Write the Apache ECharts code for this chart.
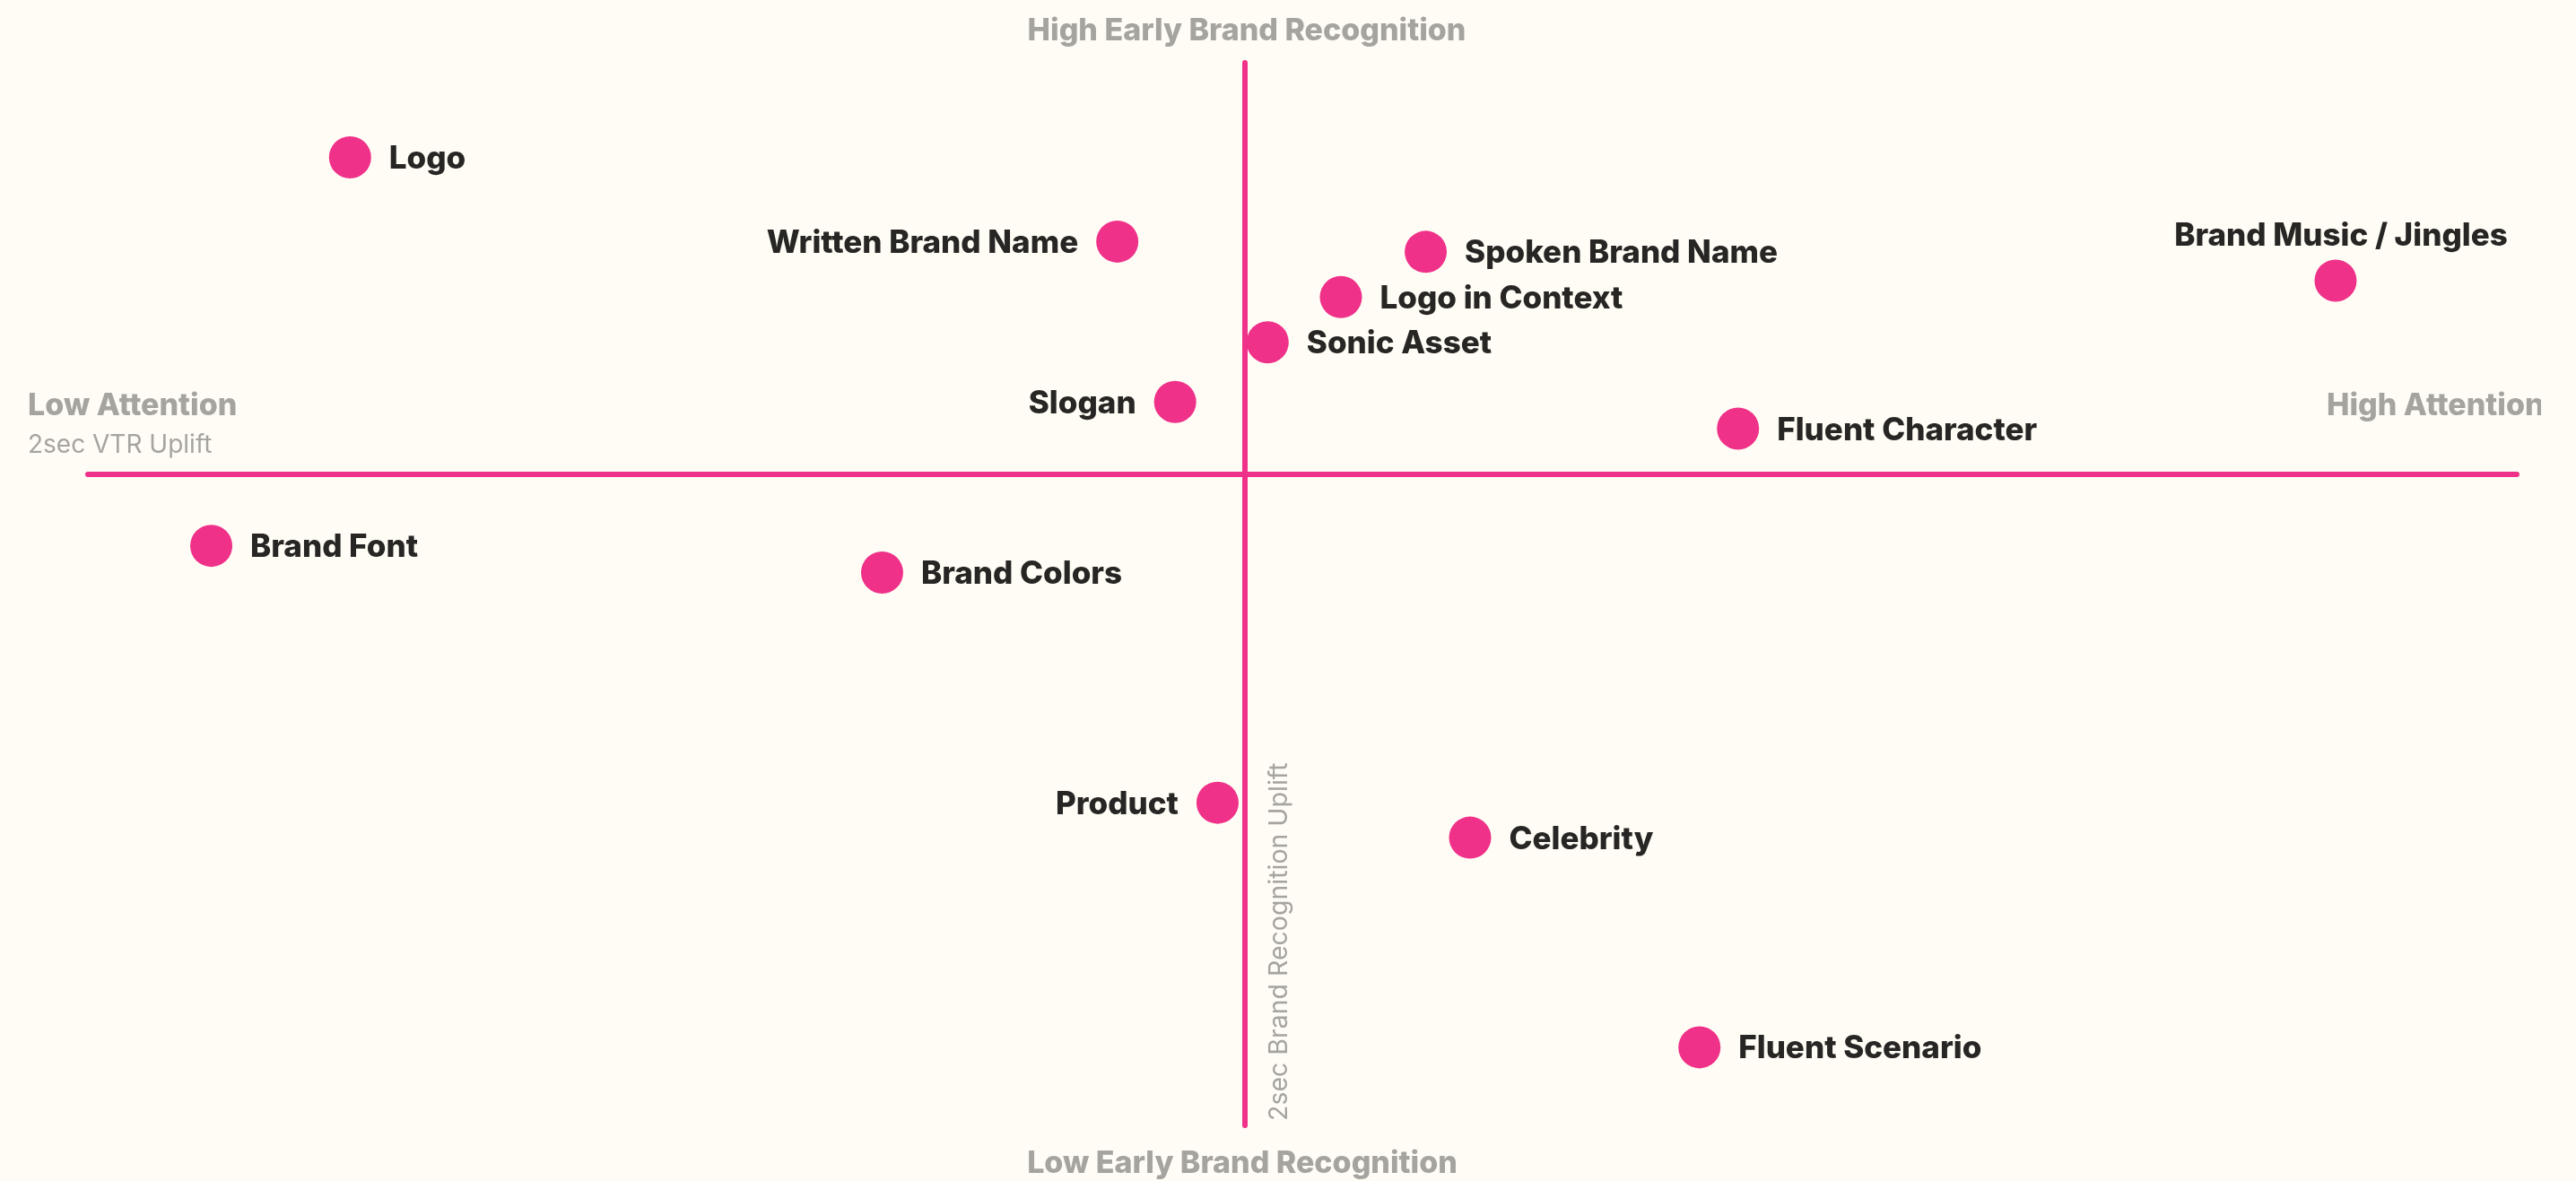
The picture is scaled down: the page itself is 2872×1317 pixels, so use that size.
<!DOCTYPE html>
<html>
<head>
<meta charset="utf-8">
<title>Brand assets: attention vs early brand recognition</title>
<script src="https://cdn.jsdelivr.net/npm/echarts@6/dist/echarts.min.js"></script>
<style>
  html, body {
    margin: 0;
    padding: 0;
    background: #fffcf5;
  }
  .chart {
    width: 2833px;
    height: 1317px;
  }
</style>
</head>
<body>
<div class="chart" id="chart"></div>

<script>
// brand assets, with 2sec VTR uplift (x) and 2sec brand recognition uplift (y)
const assetNames = [
  'Logo',
  'Written Brand Name',
  'Spoken Brand Name',
  'Logo in Context',
  'Sonic Asset',
  'Slogan',
  'Fluent Character',
  'Brand Music / Jingles',
  'Brand Font',
  'Brand Colors',
  'Product',
  'Celebrity',
  'Fluent Scenario',
]
const vtrUplift = [-23.2, -3.3, 4.7, 2.5, 0.6, -1.8, 12.8, 28.3, -26.8, -9.4, -0.7, 5.85, 11.8]
const recognitionUplift = [15.4, 11.3, 10.8, 8.6, 6.4, 3.5, 2.2, 9.4, -3.5, -4.8, -16.0, -17.7, -27.9]
// where each label sits next to its dot
const labelSide = ['right', 'left', 'right', 'right', 'right', 'left', 'right', 'top', 'right', 'right', 'left', 'right', 'right']

const pink = '#ef3189'
const grey = '#a6a49f'
const ink = '#282624'
const font = 'Inter'

let points = assetNames.map(function (name, i) {
  let label = { position: labelSide[i] }
  if (labelSide[i] === 'top') {
    label.distance = 10
    label.offset = [6, 2]
  }
  return {
    name: name,
    value: [vtrUplift[i], recognitionUplift[i]],
    label: label,
  }
})

let option = {
  backgroundColor: '#fffcf5',
  animation: false,
  grid: {
    left: 98,
    right: 27,
    top: 70,
    bottom: 62,
  },
  xAxis: {
    type: 'value',
    min: -30,
    max: 33,
    axisLine: {
      show: true,
      onZero: true,
      lineStyle: { color: pink, width: 6 },
    },
    axisTick: { show: false },
    axisLabel: { show: false },
    splitLine: { show: false },
  },
  yAxis: {
    type: 'value',
    min: -31.7,
    max: 20,
    axisLine: {
      show: true,
      onZero: true,
      lineStyle: { color: pink, width: 6 },
    },
    axisTick: { show: false },
    axisLabel: { show: false },
    splitLine: { show: false },
  },
  series: [
    {
      type: 'scatter',
      symbolSize: 47,
      itemStyle: { color: pink, opacity: 1 },
      label: {
        show: true,
        formatter: '{b}',
        distance: 20,
        offset: [0, 2],
        color: ink,
        fontFamily: font,
        fontWeight: 800,
        fontSize: 35,
      },
      data: points,
    },
  ],
  graphic: [
    {
      type: 'text',
      style: {
        text: 'High Early Brand Recognition',
        x: 1390,
        y: 35,
        align: 'center',
        verticalAlign: 'middle',
        fill: grey,
        font: '800 34px ' + font,
      },
    },
    {
      type: 'text',
      style: {
        text: 'Low Early Brand Recognition',
        x: 1385,
        y: 1298,
        align: 'center',
        verticalAlign: 'middle',
        fill: grey,
        font: '800 34px ' + font,
      },
    },
    {
      type: 'text',
      style: {
        text: 'Low Attention',
        x: 31,
        y: 453,
        align: 'left',
        verticalAlign: 'middle',
        fill: grey,
        font: '800 34px ' + font,
      },
    },
    {
      type: 'text',
      style: {
        text: '2sec VTR Uplift',
        x: 31,
        y: 497,
        align: 'left',
        verticalAlign: 'middle',
        fill: grey,
        font: '400 28px ' + font,
      },
    },
    {
      type: 'text',
      style: {
        text: 'High Attention',
        x: 2594,
        y: 453,
        align: 'left',
        verticalAlign: 'middle',
        fill: grey,
        font: '800 34px ' + font,
      },
    },
    {
      type: 'text',
      x: 1426,
      y: 1250,
      rotation: Math.PI / 2,
      style: {
        text: '2sec Brand Recognition Uplift',
        x: 0,
        y: 0,
        align: 'left',
        verticalAlign: 'middle',
        fill: grey,
        font: '400 28.5px ' + font,
      },
    },
  ],
}

let mychart = echarts.init(document.getElementById('chart'))
mychart.setOption(option)

window.addEventListener('resize', function () {
  mychart.resize()
})
</script>
</body>
</html>
